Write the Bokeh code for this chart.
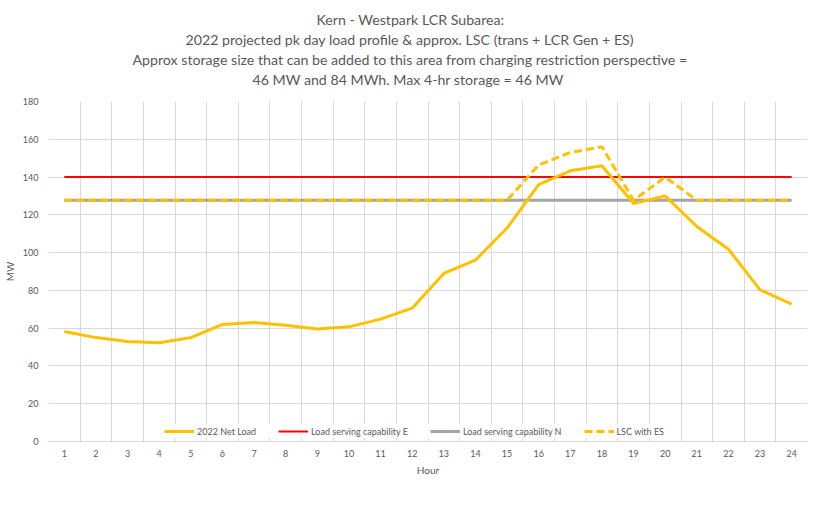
from bokeh.plotting import figure
from bokeh.models import Range1d, FixedTicker, Legend, LegendItem, Title
from bokeh.embed import file_html
from bokeh.resources import INLINE

hours = list(range(1, 25))
net_load = [58.2, 55.0, 53.0, 52.3, 55.0, 62.0, 63.0, 61.5, 59.5, 60.7, 64.8, 70.6,
            89.0, 96.0, 113.0, 136.0, 143.3, 146.0, 126.0, 130.0, 113.8, 101.8, 80.3, 72.7]
lsc_e = [140.0] * 24
lsc_n = [127.7] * 24
lsc_es = [127.7] * 15 + [146.4, 153.0, 156.0, 127.7, 140.0] + [127.7] * 4

title_lines = [
    "Kern - Westpark LCR Subarea:",
    "2022 projected pk day load profile & approx. LSC (trans + LCR Gen + ES)",
    "Approx storage size that can be added to this area from charging restriction perspective =",
    "46 MW and 84 MWh. Max 4-hr storage = 46 MW",
]
title_offsets = [268, 137, 84, 204]
y_ticks = list(range(0, 181, 20))

FONT = "Lato"
TXT = "#595959"
GRID = "#D9D9D9"

p = figure(frame_width=759, frame_height=340, output_backend="svg", toolbar_location=None,
           x_range=Range1d(0.5, 24.5), y_range=Range1d(0, 180),
           min_border_left=41, min_border_right=3, min_border_top=4, min_border_bottom=0,
           title=None)

p.add_layout(Title(text=" ", text_font=FONT, text_font_size="9px", standoff=0), "above")
for line, off in reversed(list(zip(title_lines, title_offsets))):
    t = Title(text=line, align="left", text_font=FONT,
              text_font_size="14.2px", text_color=TXT, text_font_style="normal",
              standoff=1, offset=off)
    p.add_layout(t, "above")
p.add_layout(Title(text=" ", text_font=FONT, text_font_size="5px", standoff=0), "above")

p.outline_line_color = None
p.background_fill_color = "white"
p.border_fill_color = "white"

p.xaxis.ticker = FixedTicker(ticks=hours)
p.yaxis.ticker = FixedTicker(ticks=y_ticks)
p.xgrid.ticker = FixedTicker(ticks=[h - 0.5 for h in hours] + [24.5])
p.xgrid.grid_line_color = GRID
p.ygrid.grid_line_color = GRID

for ax in (p.xaxis, p.yaxis):
    ax.major_tick_line_color = None
    ax.minor_tick_line_color = None
    ax.major_tick_out = 0
    ax.major_tick_in = 0
    ax.minor_tick_out = 0
    ax.minor_tick_in = 0
    ax.major_label_text_font = FONT
    ax.major_label_text_font_size = "9px"
    ax.major_label_text_color = TXT
    ax.axis_label_text_font = FONT
    ax.axis_label_text_font_size = "10px"
    ax.axis_label_text_color = TXT
    ax.axis_label_text_font_style = "normal"
p.xaxis.axis_line_color = GRID
p.yaxis.axis_line_color = None
p.xaxis.axis_label = "Hour"
p.yaxis.axis_label = "MW"
p.xaxis.major_label_standoff = 8
p.xaxis.axis_label_standoff = 4
p.yaxis.major_label_standoff = 10
p.yaxis.axis_label_standoff = 4

r1 = p.line(hours, net_load, line_color="#FFC000", line_width=3)
r2 = p.line(hours, lsc_e, line_color="#FF0000", line_width=2)
r3 = p.line(hours, lsc_n, line_color="#A5A5A5", line_width=3)
r4 = p.line(hours, lsc_es, line_color="#FFC000", line_width=3, line_dash="8 4")

legend = Legend(items=[
    LegendItem(label="2022 Net Load", renderers=[r1]),
    LegendItem(label="Load serving capability E", renderers=[r2]),
    LegendItem(label="Load serving capability N", renderers=[r3]),
    LegendItem(label="LSC with ES", renderers=[r4]),
], orientation="horizontal", location=(116, 3),
    label_text_font=FONT, label_text_font_size="9px", label_text_color=TXT,
    glyph_width=30, glyph_height=14, label_height=14,
    label_standoff=3, spacing=22, padding=2, margin=0,
    border_line_color=None, background_fill_color="white", background_fill_alpha=1.0)
p.add_layout(legend, "center")
p.renderers = [r3, r2, r4, r1]

open("out.html", "w").write(file_html(p, INLINE))
